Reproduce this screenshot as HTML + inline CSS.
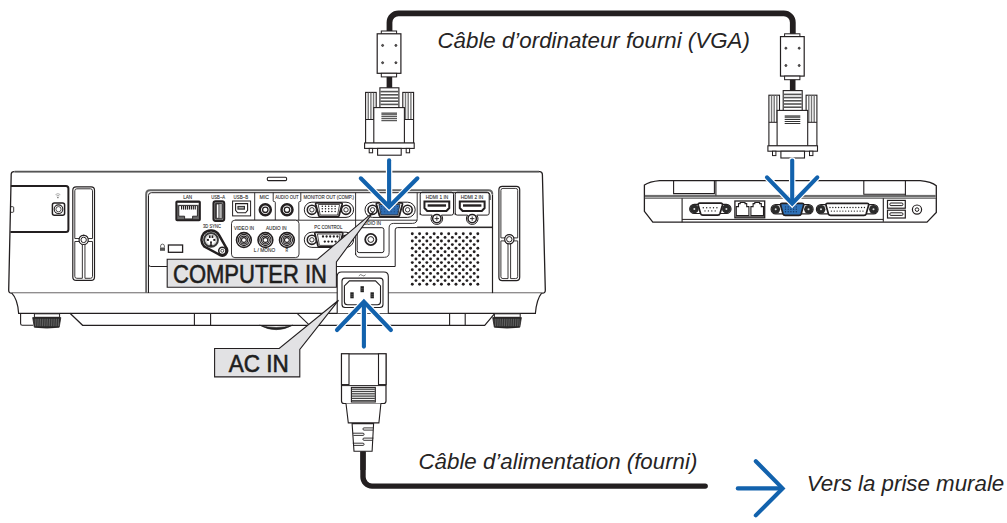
<!DOCTYPE html>
<html><head><meta charset="utf-8"><style>
html,body{margin:0;padding:0;background:#fff;width:1007px;height:523px;overflow:hidden}
svg{display:block}
text{font-family:"Liberation Sans",sans-serif}
</style></head><body>
<svg width="1007" height="523" viewBox="0 0 1007 523">
<rect width="1007" height="523" fill="#fff"/>
<path d="M389.5,32 V22.4 A9,9 0 0 1 398.5,13.4 H783.8 A9,9 0 0 1 792.8,22.4 V35" fill="none" stroke="#231f20" stroke-width="5.8" /><g transform="translate(0,0)"><rect x="381.30" y="31.00" width="15.30" height="3.20" rx="0" fill="#fff" stroke="#231f20" stroke-width="1.0" /><rect x="377.20" y="33.80" width="23.70" height="39.50" rx="0" fill="#fff" stroke="#231f20" stroke-width="1.2" /><circle cx="382.60" cy="45.40" r="1.00" fill="#666" stroke="#231f20" stroke-width="0.8"/><circle cx="395.90" cy="45.40" r="1.00" fill="#666" stroke="#231f20" stroke-width="0.8"/><circle cx="382.60" cy="62.70" r="1.00" fill="#666" stroke="#231f20" stroke-width="0.8"/><circle cx="395.90" cy="62.70" r="1.00" fill="#666" stroke="#231f20" stroke-width="0.8"/><rect x="381.30" y="73.30" width="15.30" height="3.60" rx="0" fill="#fff" stroke="#231f20" stroke-width="1.0" /><rect x="386.60" y="76.90" width="5.60" height="11.30" rx="0" fill="#231f20" stroke="none" stroke-width="0" /><rect x="365.60" y="92.40" width="10.60" height="50.80" rx="0" fill="#fff" stroke="#231f20" stroke-width="1.1" /><line x1="368.25" y1="92.80" x2="368.25" y2="119.50" stroke="#777" stroke-width="1.4" stroke-linecap="butt"/><line x1="370.90" y1="92.80" x2="370.90" y2="119.50" stroke="#777" stroke-width="1.4" stroke-linecap="butt"/><line x1="373.55" y1="92.80" x2="373.55" y2="119.50" stroke="#777" stroke-width="1.4" stroke-linecap="butt"/><line x1="365.60" y1="119.50" x2="376.20" y2="119.50" stroke="#231f20" stroke-width="1.0" stroke-linecap="butt"/><rect x="402.80" y="92.40" width="10.80" height="50.80" rx="0" fill="#fff" stroke="#231f20" stroke-width="1.1" /><line x1="405.50" y1="92.80" x2="405.50" y2="119.50" stroke="#777" stroke-width="1.4" stroke-linecap="butt"/><line x1="408.20" y1="92.80" x2="408.20" y2="119.50" stroke="#777" stroke-width="1.4" stroke-linecap="butt"/><line x1="410.90" y1="92.80" x2="410.90" y2="119.50" stroke="#777" stroke-width="1.4" stroke-linecap="butt"/><line x1="402.80" y1="119.50" x2="413.60" y2="119.50" stroke="#231f20" stroke-width="1.0" stroke-linecap="butt"/><rect x="379.90" y="87.80" width="19.00" height="20.00" rx="0" fill="#fff" stroke="#231f20" stroke-width="1.1" /><line x1="380.40" y1="91.60" x2="398.40" y2="91.60" stroke="#555" stroke-width="1.6" stroke-linecap="butt"/><line x1="380.40" y1="94.80" x2="398.40" y2="94.80" stroke="#555" stroke-width="1.6" stroke-linecap="butt"/><line x1="380.40" y1="98.00" x2="398.40" y2="98.00" stroke="#555" stroke-width="1.6" stroke-linecap="butt"/><line x1="380.40" y1="101.20" x2="398.40" y2="101.20" stroke="#555" stroke-width="1.6" stroke-linecap="butt"/><line x1="380.40" y1="104.40" x2="398.40" y2="104.40" stroke="#555" stroke-width="1.6" stroke-linecap="butt"/><rect x="373.80" y="107.60" width="30.60" height="35.60" rx="0" fill="#fff" stroke="#231f20" stroke-width="1.1" /><rect x="381.40" y="112.40" width="15.60" height="3.00" rx="0" fill="#6a6a6a" stroke="none" stroke-width="0" /><line x1="381.40" y1="116.70" x2="397.00" y2="116.70" stroke="#333" stroke-width="1.0" stroke-linecap="butt"/><line x1="381.40" y1="118.70" x2="397.00" y2="118.70" stroke="#333" stroke-width="1.0" stroke-linecap="butt"/><line x1="381.40" y1="120.70" x2="397.00" y2="120.70" stroke="#333" stroke-width="1.0" stroke-linecap="butt"/><rect x="364.60" y="143.00" width="49.60" height="5.40" rx="0" fill="#fff" stroke="#231f20" stroke-width="1.1" /><rect x="369.20" y="148.40" width="3.40" height="4.40" rx="0" fill="#fff" stroke="#231f20" stroke-width="1.0" /><rect x="406.20" y="148.40" width="3.40" height="4.40" rx="0" fill="#fff" stroke="#231f20" stroke-width="1.0" /><rect x="377.60" y="148.40" width="23.60" height="6.80" rx="0" fill="#fff" stroke="#231f20" stroke-width="1.1" /></g><g transform="translate(403.3,2.8)"><rect x="381.30" y="31.00" width="15.30" height="3.20" rx="0" fill="#fff" stroke="#231f20" stroke-width="1.0" /><rect x="377.20" y="33.80" width="23.70" height="39.50" rx="0" fill="#fff" stroke="#231f20" stroke-width="1.2" /><circle cx="382.60" cy="45.40" r="1.00" fill="#666" stroke="#231f20" stroke-width="0.8"/><circle cx="395.90" cy="45.40" r="1.00" fill="#666" stroke="#231f20" stroke-width="0.8"/><circle cx="382.60" cy="62.70" r="1.00" fill="#666" stroke="#231f20" stroke-width="0.8"/><circle cx="395.90" cy="62.70" r="1.00" fill="#666" stroke="#231f20" stroke-width="0.8"/><rect x="381.30" y="73.30" width="15.30" height="3.60" rx="0" fill="#fff" stroke="#231f20" stroke-width="1.0" /><rect x="386.60" y="76.90" width="5.60" height="11.30" rx="0" fill="#231f20" stroke="none" stroke-width="0" /><rect x="365.60" y="92.40" width="10.60" height="50.80" rx="0" fill="#fff" stroke="#231f20" stroke-width="1.1" /><line x1="368.25" y1="92.80" x2="368.25" y2="119.50" stroke="#777" stroke-width="1.4" stroke-linecap="butt"/><line x1="370.90" y1="92.80" x2="370.90" y2="119.50" stroke="#777" stroke-width="1.4" stroke-linecap="butt"/><line x1="373.55" y1="92.80" x2="373.55" y2="119.50" stroke="#777" stroke-width="1.4" stroke-linecap="butt"/><line x1="365.60" y1="119.50" x2="376.20" y2="119.50" stroke="#231f20" stroke-width="1.0" stroke-linecap="butt"/><rect x="402.80" y="92.40" width="10.80" height="50.80" rx="0" fill="#fff" stroke="#231f20" stroke-width="1.1" /><line x1="405.50" y1="92.80" x2="405.50" y2="119.50" stroke="#777" stroke-width="1.4" stroke-linecap="butt"/><line x1="408.20" y1="92.80" x2="408.20" y2="119.50" stroke="#777" stroke-width="1.4" stroke-linecap="butt"/><line x1="410.90" y1="92.80" x2="410.90" y2="119.50" stroke="#777" stroke-width="1.4" stroke-linecap="butt"/><line x1="402.80" y1="119.50" x2="413.60" y2="119.50" stroke="#231f20" stroke-width="1.0" stroke-linecap="butt"/><rect x="379.90" y="87.80" width="19.00" height="20.00" rx="0" fill="#fff" stroke="#231f20" stroke-width="1.1" /><line x1="380.40" y1="91.60" x2="398.40" y2="91.60" stroke="#555" stroke-width="1.6" stroke-linecap="butt"/><line x1="380.40" y1="94.80" x2="398.40" y2="94.80" stroke="#555" stroke-width="1.6" stroke-linecap="butt"/><line x1="380.40" y1="98.00" x2="398.40" y2="98.00" stroke="#555" stroke-width="1.6" stroke-linecap="butt"/><line x1="380.40" y1="101.20" x2="398.40" y2="101.20" stroke="#555" stroke-width="1.6" stroke-linecap="butt"/><line x1="380.40" y1="104.40" x2="398.40" y2="104.40" stroke="#555" stroke-width="1.6" stroke-linecap="butt"/><rect x="373.80" y="107.60" width="30.60" height="35.60" rx="0" fill="#fff" stroke="#231f20" stroke-width="1.1" /><rect x="381.40" y="112.40" width="15.60" height="3.00" rx="0" fill="#6a6a6a" stroke="none" stroke-width="0" /><line x1="381.40" y1="116.70" x2="397.00" y2="116.70" stroke="#333" stroke-width="1.0" stroke-linecap="butt"/><line x1="381.40" y1="118.70" x2="397.00" y2="118.70" stroke="#333" stroke-width="1.0" stroke-linecap="butt"/><line x1="381.40" y1="120.70" x2="397.00" y2="120.70" stroke="#333" stroke-width="1.0" stroke-linecap="butt"/><rect x="364.60" y="143.00" width="49.60" height="5.40" rx="0" fill="#fff" stroke="#231f20" stroke-width="1.1" /><rect x="369.20" y="148.40" width="3.40" height="4.40" rx="0" fill="#fff" stroke="#231f20" stroke-width="1.0" /><rect x="406.20" y="148.40" width="3.40" height="4.40" rx="0" fill="#fff" stroke="#231f20" stroke-width="1.0" /><rect x="377.60" y="148.40" width="23.60" height="6.80" rx="0" fill="#fff" stroke="#231f20" stroke-width="1.1" /></g><path d="M11.2,174 Q11.4,171.6 14,171.6 H539.5 Q542.3,171.6 542.4,174.5 L545.3,290 Q545.4,293.1 542.5,293.1 H11.6 Q8.6,293.1 8.7,290 Z" fill="#fff" stroke="#231f20" stroke-width="1.3" /><line x1="14.50" y1="171.60" x2="539.00" y2="171.60" stroke="#fff" stroke-width="2.0" stroke-linecap="butt"/><line x1="14.50" y1="171.70" x2="539.00" y2="171.70" stroke="#555" stroke-width="1.8" stroke-linecap="butt"/><path d="M11.8,293.2 C15.5,297 18,304 18.6,313.3 L535.4,313.3 C536.2,304 538.5,297 541.6,293.2" fill="#fff" stroke="#231f20" stroke-width="1.2" /><path d="M70,313.3 L82.6,325.3 H484.7 L494.4,313.8" fill="none" stroke="#231f20" stroke-width="1.2" /><path d="M20.6,313.3 V323.5 Q20.6,325.3 22.4,325.3 H33.3" fill="none" stroke="#231f20" stroke-width="1.1" /><path d="M194.4,313.3 V325.3 M210.6,313.3 V325.3" fill="none" stroke="#231f20" stroke-width="1.1" /><path d="M449.6,313.3 V325.3 M465.2,313.3 V325.3" fill="none" stroke="#231f20" stroke-width="1.1" /><path d="M259.6,325.2 Q276.2,334.2 292.8,325.2 Q276.2,329.6 259.6,325.2 Z" fill="#222" stroke="#222" stroke-width="0.6"/><path d="M297.1,313.4 L308.6,324.4" fill="none" stroke="#231f20" stroke-width="1.1" /><rect x="34.40" y="313.80" width="25.20" height="3.50" rx="0" fill="#fff" stroke="#231f20" stroke-width="1.0" /><path d="M32.7,317.6 H60.8 L59.199999999999996,327.2 Q46.75,329 34.300000000000004,327.2 Z" fill="#2a2a2a" stroke="#231f20" stroke-width="0.8"/><line x1="35.20" y1="318.80" x2="35.50" y2="326.20" stroke="#9a9a9a" stroke-width="0.5" stroke-linecap="butt"/><line x1="36.98" y1="318.80" x2="37.28" y2="326.20" stroke="#9a9a9a" stroke-width="0.5" stroke-linecap="butt"/><line x1="38.75" y1="318.80" x2="39.05" y2="326.20" stroke="#9a9a9a" stroke-width="0.5" stroke-linecap="butt"/><line x1="40.53" y1="318.80" x2="40.83" y2="326.20" stroke="#9a9a9a" stroke-width="0.5" stroke-linecap="butt"/><line x1="42.31" y1="318.80" x2="42.61" y2="326.20" stroke="#9a9a9a" stroke-width="0.5" stroke-linecap="butt"/><line x1="44.08" y1="318.80" x2="44.38" y2="326.20" stroke="#9a9a9a" stroke-width="0.5" stroke-linecap="butt"/><line x1="45.86" y1="318.80" x2="46.16" y2="326.20" stroke="#9a9a9a" stroke-width="0.5" stroke-linecap="butt"/><line x1="47.64" y1="318.80" x2="47.94" y2="326.20" stroke="#9a9a9a" stroke-width="0.5" stroke-linecap="butt"/><line x1="49.42" y1="318.80" x2="49.72" y2="326.20" stroke="#9a9a9a" stroke-width="0.5" stroke-linecap="butt"/><line x1="51.19" y1="318.80" x2="51.49" y2="326.20" stroke="#9a9a9a" stroke-width="0.5" stroke-linecap="butt"/><line x1="52.97" y1="318.80" x2="53.27" y2="326.20" stroke="#9a9a9a" stroke-width="0.5" stroke-linecap="butt"/><line x1="54.75" y1="318.80" x2="55.05" y2="326.20" stroke="#9a9a9a" stroke-width="0.5" stroke-linecap="butt"/><line x1="56.52" y1="318.80" x2="56.82" y2="326.20" stroke="#9a9a9a" stroke-width="0.5" stroke-linecap="butt"/><line x1="58.30" y1="318.80" x2="58.60" y2="326.20" stroke="#9a9a9a" stroke-width="0.5" stroke-linecap="butt"/><rect x="494.40" y="313.80" width="25.80" height="3.50" rx="0" fill="#fff" stroke="#231f20" stroke-width="1.0" /><path d="M492.7,317.6 H521.4 L519.8,327.2 Q507.04999999999995,329 494.3,327.2 Z" fill="#2a2a2a" stroke="#231f20" stroke-width="0.8"/><line x1="495.20" y1="318.80" x2="495.50" y2="326.20" stroke="#9a9a9a" stroke-width="0.5" stroke-linecap="butt"/><line x1="497.02" y1="318.80" x2="497.32" y2="326.20" stroke="#9a9a9a" stroke-width="0.5" stroke-linecap="butt"/><line x1="498.85" y1="318.80" x2="499.15" y2="326.20" stroke="#9a9a9a" stroke-width="0.5" stroke-linecap="butt"/><line x1="500.67" y1="318.80" x2="500.97" y2="326.20" stroke="#9a9a9a" stroke-width="0.5" stroke-linecap="butt"/><line x1="502.49" y1="318.80" x2="502.79" y2="326.20" stroke="#9a9a9a" stroke-width="0.5" stroke-linecap="butt"/><line x1="504.32" y1="318.80" x2="504.62" y2="326.20" stroke="#9a9a9a" stroke-width="0.5" stroke-linecap="butt"/><line x1="506.14" y1="318.80" x2="506.44" y2="326.20" stroke="#9a9a9a" stroke-width="0.5" stroke-linecap="butt"/><line x1="507.96" y1="318.80" x2="508.26" y2="326.20" stroke="#9a9a9a" stroke-width="0.5" stroke-linecap="butt"/><line x1="509.78" y1="318.80" x2="510.08" y2="326.20" stroke="#9a9a9a" stroke-width="0.5" stroke-linecap="butt"/><line x1="511.61" y1="318.80" x2="511.91" y2="326.20" stroke="#9a9a9a" stroke-width="0.5" stroke-linecap="butt"/><line x1="513.43" y1="318.80" x2="513.73" y2="326.20" stroke="#9a9a9a" stroke-width="0.5" stroke-linecap="butt"/><line x1="515.25" y1="318.80" x2="515.55" y2="326.20" stroke="#9a9a9a" stroke-width="0.5" stroke-linecap="butt"/><line x1="517.08" y1="318.80" x2="517.38" y2="326.20" stroke="#9a9a9a" stroke-width="0.5" stroke-linecap="butt"/><line x1="518.90" y1="318.80" x2="519.20" y2="326.20" stroke="#9a9a9a" stroke-width="0.5" stroke-linecap="butt"/><rect x="267.30" y="177.30" width="19.30" height="3.30" rx="1.2" fill="#fff" stroke="#231f20" stroke-width="1.1" /><path d="M10.9,186 H66 Q68.4,186 68.4,188.5 V229.5 Q68.4,232 66,232 H10.4" fill="none" stroke="#231f20" stroke-width="2.0" /><path d="M10.8,206.7 H12.8 Q13.7,206.7 13.7,207.7 V211.3 Q13.7,212.3 12.8,212.3 H10.6" fill="none" stroke="#231f20" stroke-width="0.9" /><rect x="52.40" y="203.10" width="12.20" height="12.20" rx="2" fill="#fff" stroke="#231f20" stroke-width="1.5" /><circle cx="58.50" cy="209.20" r="4.30" fill="#fff" stroke="#231f20" stroke-width="1.1"/><circle cx="58.50" cy="209.20" r="2.60" fill="#fff" stroke="#231f20" stroke-width="0.8"/><path d="M55.5,194.6 Q57.9,192.6 60.3,194.6 M56.4,195.9 Q57.9,194.7 59.4,195.9" fill="none" stroke="#777" stroke-width="0.6" /><rect x="57.30" y="196.80" width="1.20" height="1.40" rx="0" fill="#555" stroke="none" stroke-width="0" /><rect x="72.80" y="186.80" width="21.70" height="93.50" rx="3.4" fill="#fff" stroke="#231f20" stroke-width="1.2" /><path d="M74.8,238.5 V190.8 Q74.8,188.8 76.8,188.8 H90.5 Q92.5,188.8 92.5,190.8 V238.5 H88.25 A4.8,4.8 0 0 0 79.05000000000001,238.5 Z" fill="none" stroke="#231f20" stroke-width="0.9" /><path d="M74.8,241.5 H79.15 A4.8,4.8 0 0 0 82.35000000000001,244.5 V278.3 H76.8 Q74.8,278.3 74.8,276.3 Z" fill="none" stroke="#231f20" stroke-width="0.9" /><path d="M92.5,241.5 H88.15 A4.8,4.8 0 0 1 84.95,244.5 V278.3 H90.5 Q92.5,278.3 92.5,276.3 Z" fill="none" stroke="#231f20" stroke-width="0.9" /><circle cx="83.65" cy="239.90" r="4.60" fill="#fff" stroke="#231f20" stroke-width="1.2"/><circle cx="83.65" cy="239.90" r="2.70" fill="#fff" stroke="#231f20" stroke-width="1.0"/><rect x="498.90" y="186.40" width="20.80" height="94.20" rx="3.4" fill="#fff" stroke="#231f20" stroke-width="1.2" /><path d="M500.9,237.9 V190.4 Q500.9,188.4 502.9,188.4 H515.7 Q517.7,188.4 517.7,190.4 V237.9 H513.9 A4.8,4.8 0 0 0 504.7,237.9 Z" fill="none" stroke="#231f20" stroke-width="0.9" /><path d="M500.9,240.9 H504.8 A4.8,4.8 0 0 0 508.0,243.9 V278.6 H502.9 Q500.9,278.6 500.9,276.6 Z" fill="none" stroke="#231f20" stroke-width="0.9" /><path d="M517.7,240.9 H513.8 A4.8,4.8 0 0 1 510.6,243.9 V278.6 H515.7 Q517.7,278.6 517.7,276.6 Z" fill="none" stroke="#231f20" stroke-width="0.9" /><circle cx="509.30" cy="239.30" r="4.60" fill="#fff" stroke="#231f20" stroke-width="1.2"/><circle cx="509.30" cy="239.30" r="2.70" fill="#fff" stroke="#231f20" stroke-width="1.0"/><path d="M146.2,293.1 V194.2 Q146.2,190.3 150.1,190.3 H488.4 Q492.3,190.3 492.3,194.2" fill="none" stroke="#666" stroke-width="2.0" /><line x1="492.50" y1="194.50" x2="492.50" y2="293.10" stroke="#231f20" stroke-width="1.2" stroke-linecap="butt"/><path d="M148.5,293 V195.5 Q148.5,192.7 151.3,192.7 H487.3 Q490.1,192.7 490.1,195.5 V200" fill="none" stroke="#231f20" stroke-width="1.0" /><path d="M148.5,264.3 Q148.5,266.5 150.8,266.5 H395.2 V229.9 Q395.2,227.6 397.5,227.6 H492.5" fill="none" stroke="#231f20" stroke-width="1.0" /><line x1="235.00" y1="220.20" x2="417.20" y2="220.20" stroke="#231f20" stroke-width="0.9" stroke-linecap="butt"/><line x1="254.70" y1="192.70" x2="254.70" y2="220.20" stroke="#231f20" stroke-width="0.9" stroke-linecap="butt"/><path d="M273.2,192.7 V200.8 Q273.2,201.6 274,201.6 H274.6 Q275.3,201.6 275.3,202.4 V220.2" fill="none" stroke="#231f20" stroke-width="0.9" /><path d="M300.8,192.7 V200.8 Q300.8,201.6 300,201.6 H299.5 Q298.8,201.6 298.8,202.4 V220.2" fill="none" stroke="#231f20" stroke-width="0.9" /><line x1="355.60" y1="192.70" x2="355.60" y2="255.00" stroke="#231f20" stroke-width="0.9" stroke-linecap="butt"/><path d="M417.2,192.7 V218.6 Q417.2,223.4 412.4,223.4 H393.6 Q389.1,223.4 389.1,227.9 V252.6 Q389.1,257.3 384.4,257.3 H360 Q355.6,257.3 355.6,252.9" fill="none" stroke="#231f20" stroke-width="0.9" /><line x1="417.20" y1="227.00" x2="492.50" y2="227.00" stroke="#231f20" stroke-width="0.9" stroke-linecap="butt"/><rect x="231.50" y="220.20" width="67.50" height="37.40" rx="3.4" fill="#fff" stroke="#231f20" stroke-width="0.9" /><g font-family="Liberation Sans" font-size="5.6" fill="#2e2e2e" stroke="#2e2e2e" stroke-width="0.12"><text x="183.2" y="198.8" textLength="9" lengthAdjust="spacingAndGlyphs">LAN</text><text x="211.2" y="198.8" textLength="14" lengthAdjust="spacingAndGlyphs">USB−A</text><text x="233.6" y="198.8" textLength="14.5" lengthAdjust="spacingAndGlyphs">USB−B</text><text x="259.6" y="198.8" textLength="9.5" lengthAdjust="spacingAndGlyphs">MIC</text><text x="275.2" y="198.8" textLength="23.5" lengthAdjust="spacingAndGlyphs">AUDIO OUT</text><text x="303.4" y="198.8" textLength="50.5" lengthAdjust="spacingAndGlyphs">MONITOR OUT (COMP.)</text><text x="203" y="228.1" textLength="18" lengthAdjust="spacingAndGlyphs">3D SYNC</text><text x="234" y="229.6" textLength="20" lengthAdjust="spacingAndGlyphs">VIDEO IN</text><text x="266" y="229.6" textLength="20.5" lengthAdjust="spacingAndGlyphs">AUDIO IN</text><text x="253.8" y="252.2" textLength="21.4" lengthAdjust="spacingAndGlyphs">L / MONO</text><text x="285.6" y="252.2" textLength="2.6" lengthAdjust="spacingAndGlyphs">R</text><text x="314.3" y="229.4" textLength="28" lengthAdjust="spacingAndGlyphs">PC CONTROL</text><text x="361.0" y="225.0" textLength="20" lengthAdjust="spacingAndGlyphs">AUDIO IN</text><text x="425.8" y="198.5" textLength="22.4" lengthAdjust="spacingAndGlyphs">HDMI 1 IN</text><text x="460.8" y="198.5" textLength="22.4" lengthAdjust="spacingAndGlyphs">HDMI 2 IN</text></g><rect x="176.30" y="201.50" width="23.60" height="18.70" rx="0.8" fill="#6a6a6a" stroke="#231f20" stroke-width="1.9" /><rect x="177.60" y="203.00" width="21.00" height="1.80" rx="0" fill="#fff" stroke="none" stroke-width="0" /><path d="M178.8,205.6 H197.4 V216.2 H192.6 V218.9 H184.6 V216.2 H178.8 Z" fill="#fff" stroke="#231f20" stroke-width="0.9" /><line x1="181.60" y1="206.00" x2="181.60" y2="209.60" stroke="#231f20" stroke-width="1.2" stroke-linecap="butt"/><line x1="183.55" y1="206.00" x2="183.55" y2="209.60" stroke="#231f20" stroke-width="1.2" stroke-linecap="butt"/><line x1="185.50" y1="206.00" x2="185.50" y2="209.60" stroke="#231f20" stroke-width="1.2" stroke-linecap="butt"/><line x1="187.45" y1="206.00" x2="187.45" y2="209.60" stroke="#231f20" stroke-width="1.2" stroke-linecap="butt"/><line x1="189.40" y1="206.00" x2="189.40" y2="209.60" stroke="#231f20" stroke-width="1.2" stroke-linecap="butt"/><line x1="191.35" y1="206.00" x2="191.35" y2="209.60" stroke="#231f20" stroke-width="1.2" stroke-linecap="butt"/><line x1="193.30" y1="206.00" x2="193.30" y2="209.60" stroke="#231f20" stroke-width="1.2" stroke-linecap="butt"/><line x1="195.25" y1="206.00" x2="195.25" y2="209.60" stroke="#231f20" stroke-width="1.2" stroke-linecap="butt"/><rect x="213.40" y="201.20" width="10.90" height="19.80" rx="2.2" fill="#8a8a8a" stroke="#231f20" stroke-width="1.9" /><rect x="215.40" y="203.40" width="6.90" height="15.40" rx="0.6" fill="#b5b5b5" stroke="#231f20" stroke-width="0.9" /><rect x="216.40" y="204.00" width="2.50" height="14.20" rx="0" fill="#fff" stroke="#231f20" stroke-width="0.7" /><rect x="232.60" y="201.00" width="18.00" height="14.90" rx="0" fill="#fff" stroke="#231f20" stroke-width="1.0" /><path d="M235.6,203.6 H247.6 V210.3 L245.6,212.8 H237.6 L235.6,210.3 Z" fill="none" stroke="#231f20" stroke-width="1.1" /><rect x="237.40" y="205.90" width="7.60" height="3.80" rx="0" fill="#333" stroke="none" stroke-width="0" /><rect x="238.60" y="206.90" width="5.20" height="1.60" rx="0" fill="#aaa" stroke="none" stroke-width="0" /><circle cx="265.30" cy="209.80" r="5.50" fill="#fff" stroke="#231f20" stroke-width="2.5"/><circle cx="265.30" cy="209.80" r="2.70" fill="#fff" stroke="#231f20" stroke-width="1.3"/><circle cx="287.00" cy="209.80" r="5.50" fill="#fff" stroke="#231f20" stroke-width="2.5"/><circle cx="287.00" cy="209.80" r="2.70" fill="#fff" stroke="#231f20" stroke-width="1.3"/><path d="M203.6,233.7 A9.6,9.6 0 0 1 219.2,235.4 L226.3,247.8 A5,5 0 0 1 219,254.5 L204.3,246.6 A9.6,9.6 0 0 1 203.6,233.7 Z" fill="none" stroke="#231f20" stroke-width="2.5" /><circle cx="211.00" cy="239.90" r="6.90" fill="#fff" stroke="#3a3a3a" stroke-width="2.0"/><circle cx="211.00" cy="239.90" r="5.00" fill="#fff" stroke="#999" stroke-width="0.5"/><rect x="208.90" y="235.40" width="1.70" height="2.60" rx="0" fill="#231f20" stroke="none" stroke-width="0" /><rect x="211.60" y="235.40" width="1.70" height="2.60" rx="0" fill="#231f20" stroke="none" stroke-width="0" /><rect x="206.90" y="238.90" width="2.00" height="2.00" rx="0" fill="#231f20" stroke="none" stroke-width="0" /><rect x="213.30" y="238.90" width="2.00" height="2.00" rx="0" fill="#231f20" stroke="none" stroke-width="0" /><rect x="210.10" y="241.40" width="1.80" height="2.40" rx="0" fill="#231f20" stroke="none" stroke-width="0" /><path d="M208.9,246.2 L211,243.6 L213.1,246.2 Z" fill="#231f20" stroke="none" stroke-width="0" /><circle cx="222.30" cy="250.80" r="3.60" fill="#fff" stroke="#231f20" stroke-width="1.5"/><circle cx="222.30" cy="250.80" r="1.50" fill="#fff" stroke="#231f20" stroke-width="0.8"/><rect x="168.40" y="245.00" width="14.20" height="7.30" rx="0" fill="#fff" stroke="#231f20" stroke-width="1.3" /><path d="M160.6,247.5 V246 A1.9,1.9 0 0 1 164.4,246 V247.5" fill="none" stroke="#444" stroke-width="0.8" /><rect x="160.00" y="247.50" width="5.00" height="3.30" rx="0" fill="#555" stroke="none" stroke-width="0" /><circle cx="243.90" cy="240.00" r="7.40" fill="#fff" stroke="#231f20" stroke-width="1.6"/><circle cx="243.90" cy="240.00" r="5.60" fill="none" stroke="#231f20" stroke-width="1.1"/><circle cx="243.90" cy="240.00" r="3.90" fill="none" stroke="#231f20" stroke-width="1.1"/><circle cx="243.90" cy="240.00" r="2.40" fill="none" stroke="#231f20" stroke-width="1.1"/><circle cx="265.40" cy="240.00" r="7.40" fill="#fff" stroke="#231f20" stroke-width="1.6"/><circle cx="265.40" cy="240.00" r="5.60" fill="none" stroke="#231f20" stroke-width="1.1"/><circle cx="265.40" cy="240.00" r="3.90" fill="none" stroke="#231f20" stroke-width="1.1"/><circle cx="265.40" cy="240.00" r="2.40" fill="none" stroke="#231f20" stroke-width="1.1"/><circle cx="286.90" cy="240.00" r="7.40" fill="#fff" stroke="#231f20" stroke-width="1.6"/><circle cx="286.90" cy="240.00" r="5.60" fill="none" stroke="#231f20" stroke-width="1.1"/><circle cx="286.90" cy="240.00" r="3.90" fill="none" stroke="#231f20" stroke-width="1.1"/><circle cx="286.90" cy="240.00" r="2.40" fill="none" stroke="#231f20" stroke-width="1.1"/><path d="M311.90000000000003,202.2 H346.0 A7.6000000000000085,7.6000000000000085 0 0 1 346.0,217.4 H311.90000000000003 A7.6000000000000085,7.6000000000000085 0 0 1 311.90000000000003,202.2 Z" fill="#fff" stroke="#231f20" stroke-width="1.0"/><circle cx="311.90" cy="209.80" r="4.60" fill="#fff" stroke="#231f20" stroke-width="1.6"/><circle cx="311.90" cy="209.80" r="2.20" fill="#fff" stroke="#231f20" stroke-width="0.9"/><circle cx="346.00" cy="209.80" r="4.60" fill="#fff" stroke="#231f20" stroke-width="1.6"/><circle cx="346.00" cy="209.80" r="2.20" fill="#fff" stroke="#231f20" stroke-width="0.9"/><path d="M317,202.9 H340.8 Q342.40000000000003,202.9 342.1,204.5 L339.0,215.6 Q338.6,216.6 337.5,216.6 H320.3 Q319.2,216.6 318.8,215.6 L315.7,204.5 Q315.4,202.9 317,202.9 Z" fill="#fff" stroke="#231f20" stroke-width="1.8" transform="translate(0,0)"/><path d="M318.2,204.5 H339.6 L337.6,215.0 H320.2 Z" fill="#fff" stroke="#231f20" stroke-width="0.8"/><circle cx="322.30" cy="206.20" r="0.75" fill="#231f20" stroke="none" stroke-width="0"/><circle cx="325.50" cy="206.20" r="0.75" fill="#231f20" stroke="none" stroke-width="0"/><circle cx="328.70" cy="206.20" r="0.75" fill="#231f20" stroke="none" stroke-width="0"/><circle cx="331.90" cy="206.20" r="0.75" fill="#231f20" stroke="none" stroke-width="0"/><circle cx="335.10" cy="206.20" r="0.75" fill="#231f20" stroke="none" stroke-width="0"/><circle cx="322.30" cy="208.80" r="0.75" fill="#231f20" stroke="none" stroke-width="0"/><circle cx="325.50" cy="208.80" r="0.75" fill="#231f20" stroke="none" stroke-width="0"/><circle cx="328.70" cy="208.80" r="0.75" fill="#231f20" stroke="none" stroke-width="0"/><circle cx="331.90" cy="208.80" r="0.75" fill="#231f20" stroke="none" stroke-width="0"/><circle cx="335.10" cy="208.80" r="0.75" fill="#231f20" stroke="none" stroke-width="0"/><circle cx="322.30" cy="211.40" r="0.75" fill="#231f20" stroke="none" stroke-width="0"/><circle cx="325.50" cy="211.40" r="0.75" fill="#231f20" stroke="none" stroke-width="0"/><circle cx="328.70" cy="211.40" r="0.75" fill="#231f20" stroke="none" stroke-width="0"/><circle cx="331.90" cy="211.40" r="0.75" fill="#231f20" stroke="none" stroke-width="0"/><circle cx="335.10" cy="211.40" r="0.75" fill="#231f20" stroke="none" stroke-width="0"/><path d="M311.90000000000003,232.2 H346.0 A7.6000000000000085,7.6000000000000085 0 0 1 346.0,247.4 H311.90000000000003 A7.6000000000000085,7.6000000000000085 0 0 1 311.90000000000003,232.2 Z" fill="#fff" stroke="#231f20" stroke-width="1.0"/><circle cx="311.90" cy="239.80" r="4.60" fill="#fff" stroke="#231f20" stroke-width="1.6"/><circle cx="311.90" cy="239.80" r="2.20" fill="#fff" stroke="#231f20" stroke-width="0.9"/><circle cx="346.00" cy="239.80" r="4.60" fill="#fff" stroke="#231f20" stroke-width="1.6"/><circle cx="346.00" cy="239.80" r="2.20" fill="#fff" stroke="#231f20" stroke-width="0.9"/><path d="M316.2,232.4 H341.4 Q343.0,232.4 342.7,234.0 L339.59999999999997,246.0 Q339.2,247.0 338.09999999999997,247.0 H319.5 Q318.4,247.0 318.0,246.0 L314.9,234.0 Q314.59999999999997,232.4 316.2,232.4 Z" fill="#fff" stroke="#231f20" stroke-width="1.8" transform="translate(0,0)"/><path d="M317.4,234.0 H340.2 L338.2,245.4 H319.4 Z" fill="#fff" stroke="#231f20" stroke-width="0.8"/><circle cx="323.00" cy="236.50" r="1.15" fill="#231f20" stroke="none" stroke-width="0"/><circle cx="326.60" cy="236.50" r="1.15" fill="#231f20" stroke="none" stroke-width="0"/><circle cx="330.20" cy="236.50" r="1.15" fill="#231f20" stroke="none" stroke-width="0"/><circle cx="333.80" cy="236.50" r="1.15" fill="#231f20" stroke="none" stroke-width="0"/><circle cx="337.40" cy="236.50" r="1.15" fill="#231f20" stroke="none" stroke-width="0"/><circle cx="324.80" cy="241.60" r="1.15" fill="#231f20" stroke="none" stroke-width="0"/><circle cx="328.40" cy="241.60" r="1.15" fill="#231f20" stroke="none" stroke-width="0"/><circle cx="332.00" cy="241.60" r="1.15" fill="#231f20" stroke="none" stroke-width="0"/><circle cx="335.60" cy="241.60" r="1.15" fill="#231f20" stroke="none" stroke-width="0"/><path d="M372.6,202.2 H407.59999999999997 A7.6000000000000085,7.6000000000000085 0 0 1 407.59999999999997,217.4 H372.6 A7.6000000000000085,7.6000000000000085 0 0 1 372.6,202.2 Z" fill="#fff" stroke="#231f20" stroke-width="1.0"/><circle cx="372.60" cy="209.80" r="4.60" fill="#fff" stroke="#231f20" stroke-width="1.6"/><circle cx="372.60" cy="209.80" r="2.20" fill="#fff" stroke="#231f20" stroke-width="0.9"/><circle cx="407.60" cy="209.80" r="4.60" fill="#fff" stroke="#231f20" stroke-width="1.6"/><circle cx="407.60" cy="209.80" r="2.20" fill="#fff" stroke="#231f20" stroke-width="0.9"/><path d="M377.7,202.9 H401.1 Q402.70000000000005,202.9 402.40000000000003,204.5 L399.3,215.6 Q398.90000000000003,216.6 397.8,216.6 H381.0 Q379.9,216.6 379.5,215.6 L376.4,204.5 Q376.09999999999997,202.9 377.7,202.9 Z" fill="#fff" stroke="#231f20" stroke-width="1.8" transform="translate(0,0)"/><path d="M378.9,204.5 H399.90000000000003 L397.90000000000003,215.0 H380.9 Z" fill="#2f6db3" stroke="#231f20" stroke-width="0.8"/><circle cx="381.50" cy="206.50" r="0.50" fill="#173f70" stroke="none" stroke-width="0"/><circle cx="384.70" cy="206.50" r="0.50" fill="#173f70" stroke="none" stroke-width="0"/><circle cx="387.90" cy="206.50" r="0.50" fill="#173f70" stroke="none" stroke-width="0"/><circle cx="391.10" cy="206.50" r="0.50" fill="#173f70" stroke="none" stroke-width="0"/><circle cx="394.30" cy="206.50" r="0.50" fill="#173f70" stroke="none" stroke-width="0"/><circle cx="397.50" cy="206.50" r="0.50" fill="#173f70" stroke="none" stroke-width="0"/><circle cx="381.50" cy="209.10" r="0.50" fill="#173f70" stroke="none" stroke-width="0"/><circle cx="384.70" cy="209.10" r="0.50" fill="#173f70" stroke="none" stroke-width="0"/><circle cx="387.90" cy="209.10" r="0.50" fill="#173f70" stroke="none" stroke-width="0"/><circle cx="391.10" cy="209.10" r="0.50" fill="#173f70" stroke="none" stroke-width="0"/><circle cx="394.30" cy="209.10" r="0.50" fill="#173f70" stroke="none" stroke-width="0"/><circle cx="397.50" cy="209.10" r="0.50" fill="#173f70" stroke="none" stroke-width="0"/><circle cx="381.50" cy="211.70" r="0.50" fill="#173f70" stroke="none" stroke-width="0"/><circle cx="384.70" cy="211.70" r="0.50" fill="#173f70" stroke="none" stroke-width="0"/><circle cx="387.90" cy="211.70" r="0.50" fill="#173f70" stroke="none" stroke-width="0"/><circle cx="391.10" cy="211.70" r="0.50" fill="#173f70" stroke="none" stroke-width="0"/><circle cx="394.30" cy="211.70" r="0.50" fill="#173f70" stroke="none" stroke-width="0"/><circle cx="397.50" cy="211.70" r="0.50" fill="#173f70" stroke="none" stroke-width="0"/><rect x="357.20" y="227.70" width="26.70" height="24.90" rx="2" fill="#fff" stroke="#231f20" stroke-width="1.0" /><circle cx="370.80" cy="239.50" r="5.60" fill="#fff" stroke="#231f20" stroke-width="1.8"/><circle cx="370.80" cy="239.50" r="2.90" fill="#fff" stroke="#231f20" stroke-width="1.0"/><path d="M420.2,215.1 V194.2 Q420.2,192.2 422.2,192.2 H451.5 Q453.5,192.2 453.5,194.2 V213.1 Q453.5,215.1 451.5,215.1 H441.45000000000005 A5.8,5.8 0 1 1 432.25,215.1 H422.2 Q420.2,215.1 420.2,213.1" fill="none" stroke="#231f20" stroke-width="1.0" /><path d="M424.45000000000005,201.4 H449.25 V208 L446.45000000000005,211 H427.25 L424.45000000000005,208 Z" fill="#fff" stroke="#231f20" stroke-width="2.0"/><rect x="427.65" y="204.30" width="18.40" height="2.40" rx="0" fill="#231f20" stroke="none" stroke-width="0" /><circle cx="436.85" cy="218.60" r="4.20" fill="#fff" stroke="#231f20" stroke-width="1.5"/><path d="M434.65000000000003,218.6 H439.05 M436.85,216.4 V220.8" fill="none" stroke="#231f20" stroke-width="0.9" /><path d="M455.2,215.1 V194.2 Q455.2,192.2 457.2,192.2 H487.2 Q489.2,192.2 489.2,194.2 V213.1 Q489.2,215.1 487.2,215.1 H476.8 A5.8,5.8 0 1 1 467.59999999999997,215.1 H457.2 Q455.2,215.1 455.2,213.1" fill="none" stroke="#231f20" stroke-width="1.0" /><path d="M459.8,201.4 H484.59999999999997 V208 L481.8,211 H462.59999999999997 L459.8,208 Z" fill="#fff" stroke="#231f20" stroke-width="2.0"/><rect x="463.00" y="204.30" width="18.40" height="2.40" rx="0" fill="#231f20" stroke="none" stroke-width="0" /><circle cx="472.20" cy="218.60" r="4.20" fill="#fff" stroke="#231f20" stroke-width="1.5"/><path d="M470.0,218.6 H474.4 M472.2,216.4 V220.8" fill="none" stroke="#231f20" stroke-width="0.9" /><circle cx="412.30" cy="233.80" r="1.45" fill="#231f20" stroke="none" stroke-width="0"/><circle cx="419.58" cy="233.80" r="1.45" fill="#231f20" stroke="none" stroke-width="0"/><circle cx="426.86" cy="233.80" r="1.45" fill="#231f20" stroke="none" stroke-width="0"/><circle cx="434.14" cy="233.80" r="1.45" fill="#231f20" stroke="none" stroke-width="0"/><circle cx="441.42" cy="233.80" r="1.45" fill="#231f20" stroke="none" stroke-width="0"/><circle cx="448.70" cy="233.80" r="1.45" fill="#231f20" stroke="none" stroke-width="0"/><circle cx="455.98" cy="233.80" r="1.45" fill="#231f20" stroke="none" stroke-width="0"/><circle cx="463.26" cy="233.80" r="1.45" fill="#231f20" stroke="none" stroke-width="0"/><circle cx="470.54" cy="233.80" r="1.45" fill="#231f20" stroke="none" stroke-width="0"/><circle cx="477.82" cy="233.80" r="1.45" fill="#231f20" stroke="none" stroke-width="0"/><circle cx="415.94" cy="237.40" r="1.45" fill="#231f20" stroke="none" stroke-width="0"/><circle cx="423.22" cy="237.40" r="1.45" fill="#231f20" stroke="none" stroke-width="0"/><circle cx="430.50" cy="237.40" r="1.45" fill="#231f20" stroke="none" stroke-width="0"/><circle cx="437.78" cy="237.40" r="1.45" fill="#231f20" stroke="none" stroke-width="0"/><circle cx="445.06" cy="237.40" r="1.45" fill="#231f20" stroke="none" stroke-width="0"/><circle cx="452.34" cy="237.40" r="1.45" fill="#231f20" stroke="none" stroke-width="0"/><circle cx="459.62" cy="237.40" r="1.45" fill="#231f20" stroke="none" stroke-width="0"/><circle cx="466.90" cy="237.40" r="1.45" fill="#231f20" stroke="none" stroke-width="0"/><circle cx="474.18" cy="237.40" r="1.45" fill="#231f20" stroke="none" stroke-width="0"/><circle cx="412.30" cy="241.00" r="1.45" fill="#231f20" stroke="none" stroke-width="0"/><circle cx="419.58" cy="241.00" r="1.45" fill="#231f20" stroke="none" stroke-width="0"/><circle cx="426.86" cy="241.00" r="1.45" fill="#231f20" stroke="none" stroke-width="0"/><circle cx="434.14" cy="241.00" r="1.45" fill="#231f20" stroke="none" stroke-width="0"/><circle cx="441.42" cy="241.00" r="1.45" fill="#231f20" stroke="none" stroke-width="0"/><circle cx="448.70" cy="241.00" r="1.45" fill="#231f20" stroke="none" stroke-width="0"/><circle cx="455.98" cy="241.00" r="1.45" fill="#231f20" stroke="none" stroke-width="0"/><circle cx="463.26" cy="241.00" r="1.45" fill="#231f20" stroke="none" stroke-width="0"/><circle cx="470.54" cy="241.00" r="1.45" fill="#231f20" stroke="none" stroke-width="0"/><circle cx="477.82" cy="241.00" r="1.45" fill="#231f20" stroke="none" stroke-width="0"/><circle cx="415.94" cy="244.60" r="1.45" fill="#231f20" stroke="none" stroke-width="0"/><circle cx="423.22" cy="244.60" r="1.45" fill="#231f20" stroke="none" stroke-width="0"/><circle cx="430.50" cy="244.60" r="1.45" fill="#231f20" stroke="none" stroke-width="0"/><circle cx="437.78" cy="244.60" r="1.45" fill="#231f20" stroke="none" stroke-width="0"/><circle cx="445.06" cy="244.60" r="1.45" fill="#231f20" stroke="none" stroke-width="0"/><circle cx="452.34" cy="244.60" r="1.45" fill="#231f20" stroke="none" stroke-width="0"/><circle cx="459.62" cy="244.60" r="1.45" fill="#231f20" stroke="none" stroke-width="0"/><circle cx="466.90" cy="244.60" r="1.45" fill="#231f20" stroke="none" stroke-width="0"/><circle cx="474.18" cy="244.60" r="1.45" fill="#231f20" stroke="none" stroke-width="0"/><circle cx="412.30" cy="248.20" r="1.45" fill="#231f20" stroke="none" stroke-width="0"/><circle cx="419.58" cy="248.20" r="1.45" fill="#231f20" stroke="none" stroke-width="0"/><circle cx="426.86" cy="248.20" r="1.45" fill="#231f20" stroke="none" stroke-width="0"/><circle cx="434.14" cy="248.20" r="1.45" fill="#231f20" stroke="none" stroke-width="0"/><circle cx="441.42" cy="248.20" r="1.45" fill="#231f20" stroke="none" stroke-width="0"/><circle cx="448.70" cy="248.20" r="1.45" fill="#231f20" stroke="none" stroke-width="0"/><circle cx="455.98" cy="248.20" r="1.45" fill="#231f20" stroke="none" stroke-width="0"/><circle cx="463.26" cy="248.20" r="1.45" fill="#231f20" stroke="none" stroke-width="0"/><circle cx="470.54" cy="248.20" r="1.45" fill="#231f20" stroke="none" stroke-width="0"/><circle cx="477.82" cy="248.20" r="1.45" fill="#231f20" stroke="none" stroke-width="0"/><circle cx="415.94" cy="251.80" r="1.45" fill="#231f20" stroke="none" stroke-width="0"/><circle cx="423.22" cy="251.80" r="1.45" fill="#231f20" stroke="none" stroke-width="0"/><circle cx="430.50" cy="251.80" r="1.45" fill="#231f20" stroke="none" stroke-width="0"/><circle cx="437.78" cy="251.80" r="1.45" fill="#231f20" stroke="none" stroke-width="0"/><circle cx="445.06" cy="251.80" r="1.45" fill="#231f20" stroke="none" stroke-width="0"/><circle cx="452.34" cy="251.80" r="1.45" fill="#231f20" stroke="none" stroke-width="0"/><circle cx="459.62" cy="251.80" r="1.45" fill="#231f20" stroke="none" stroke-width="0"/><circle cx="466.90" cy="251.80" r="1.45" fill="#231f20" stroke="none" stroke-width="0"/><circle cx="474.18" cy="251.80" r="1.45" fill="#231f20" stroke="none" stroke-width="0"/><circle cx="412.30" cy="255.40" r="1.45" fill="#231f20" stroke="none" stroke-width="0"/><circle cx="419.58" cy="255.40" r="1.45" fill="#231f20" stroke="none" stroke-width="0"/><circle cx="426.86" cy="255.40" r="1.45" fill="#231f20" stroke="none" stroke-width="0"/><circle cx="434.14" cy="255.40" r="1.45" fill="#231f20" stroke="none" stroke-width="0"/><circle cx="441.42" cy="255.40" r="1.45" fill="#231f20" stroke="none" stroke-width="0"/><circle cx="448.70" cy="255.40" r="1.45" fill="#231f20" stroke="none" stroke-width="0"/><circle cx="455.98" cy="255.40" r="1.45" fill="#231f20" stroke="none" stroke-width="0"/><circle cx="463.26" cy="255.40" r="1.45" fill="#231f20" stroke="none" stroke-width="0"/><circle cx="470.54" cy="255.40" r="1.45" fill="#231f20" stroke="none" stroke-width="0"/><circle cx="477.82" cy="255.40" r="1.45" fill="#231f20" stroke="none" stroke-width="0"/><circle cx="415.94" cy="259.00" r="1.45" fill="#231f20" stroke="none" stroke-width="0"/><circle cx="423.22" cy="259.00" r="1.45" fill="#231f20" stroke="none" stroke-width="0"/><circle cx="430.50" cy="259.00" r="1.45" fill="#231f20" stroke="none" stroke-width="0"/><circle cx="437.78" cy="259.00" r="1.45" fill="#231f20" stroke="none" stroke-width="0"/><circle cx="445.06" cy="259.00" r="1.45" fill="#231f20" stroke="none" stroke-width="0"/><circle cx="452.34" cy="259.00" r="1.45" fill="#231f20" stroke="none" stroke-width="0"/><circle cx="459.62" cy="259.00" r="1.45" fill="#231f20" stroke="none" stroke-width="0"/><circle cx="466.90" cy="259.00" r="1.45" fill="#231f20" stroke="none" stroke-width="0"/><circle cx="474.18" cy="259.00" r="1.45" fill="#231f20" stroke="none" stroke-width="0"/><circle cx="412.30" cy="262.60" r="1.45" fill="#231f20" stroke="none" stroke-width="0"/><circle cx="419.58" cy="262.60" r="1.45" fill="#231f20" stroke="none" stroke-width="0"/><circle cx="426.86" cy="262.60" r="1.45" fill="#231f20" stroke="none" stroke-width="0"/><circle cx="434.14" cy="262.60" r="1.45" fill="#231f20" stroke="none" stroke-width="0"/><circle cx="441.42" cy="262.60" r="1.45" fill="#231f20" stroke="none" stroke-width="0"/><circle cx="448.70" cy="262.60" r="1.45" fill="#231f20" stroke="none" stroke-width="0"/><circle cx="455.98" cy="262.60" r="1.45" fill="#231f20" stroke="none" stroke-width="0"/><circle cx="463.26" cy="262.60" r="1.45" fill="#231f20" stroke="none" stroke-width="0"/><circle cx="470.54" cy="262.60" r="1.45" fill="#231f20" stroke="none" stroke-width="0"/><circle cx="477.82" cy="262.60" r="1.45" fill="#231f20" stroke="none" stroke-width="0"/><circle cx="415.94" cy="266.20" r="1.45" fill="#231f20" stroke="none" stroke-width="0"/><circle cx="423.22" cy="266.20" r="1.45" fill="#231f20" stroke="none" stroke-width="0"/><circle cx="430.50" cy="266.20" r="1.45" fill="#231f20" stroke="none" stroke-width="0"/><circle cx="437.78" cy="266.20" r="1.45" fill="#231f20" stroke="none" stroke-width="0"/><circle cx="445.06" cy="266.20" r="1.45" fill="#231f20" stroke="none" stroke-width="0"/><circle cx="452.34" cy="266.20" r="1.45" fill="#231f20" stroke="none" stroke-width="0"/><circle cx="459.62" cy="266.20" r="1.45" fill="#231f20" stroke="none" stroke-width="0"/><circle cx="466.90" cy="266.20" r="1.45" fill="#231f20" stroke="none" stroke-width="0"/><circle cx="474.18" cy="266.20" r="1.45" fill="#231f20" stroke="none" stroke-width="0"/><circle cx="412.30" cy="269.80" r="1.45" fill="#231f20" stroke="none" stroke-width="0"/><circle cx="419.58" cy="269.80" r="1.45" fill="#231f20" stroke="none" stroke-width="0"/><circle cx="426.86" cy="269.80" r="1.45" fill="#231f20" stroke="none" stroke-width="0"/><circle cx="434.14" cy="269.80" r="1.45" fill="#231f20" stroke="none" stroke-width="0"/><circle cx="441.42" cy="269.80" r="1.45" fill="#231f20" stroke="none" stroke-width="0"/><circle cx="448.70" cy="269.80" r="1.45" fill="#231f20" stroke="none" stroke-width="0"/><circle cx="455.98" cy="269.80" r="1.45" fill="#231f20" stroke="none" stroke-width="0"/><circle cx="463.26" cy="269.80" r="1.45" fill="#231f20" stroke="none" stroke-width="0"/><circle cx="470.54" cy="269.80" r="1.45" fill="#231f20" stroke="none" stroke-width="0"/><circle cx="477.82" cy="269.80" r="1.45" fill="#231f20" stroke="none" stroke-width="0"/><circle cx="415.94" cy="273.40" r="1.45" fill="#231f20" stroke="none" stroke-width="0"/><circle cx="423.22" cy="273.40" r="1.45" fill="#231f20" stroke="none" stroke-width="0"/><circle cx="430.50" cy="273.40" r="1.45" fill="#231f20" stroke="none" stroke-width="0"/><circle cx="437.78" cy="273.40" r="1.45" fill="#231f20" stroke="none" stroke-width="0"/><circle cx="445.06" cy="273.40" r="1.45" fill="#231f20" stroke="none" stroke-width="0"/><circle cx="452.34" cy="273.40" r="1.45" fill="#231f20" stroke="none" stroke-width="0"/><circle cx="459.62" cy="273.40" r="1.45" fill="#231f20" stroke="none" stroke-width="0"/><circle cx="466.90" cy="273.40" r="1.45" fill="#231f20" stroke="none" stroke-width="0"/><circle cx="474.18" cy="273.40" r="1.45" fill="#231f20" stroke="none" stroke-width="0"/><circle cx="412.30" cy="277.00" r="1.45" fill="#231f20" stroke="none" stroke-width="0"/><circle cx="419.58" cy="277.00" r="1.45" fill="#231f20" stroke="none" stroke-width="0"/><circle cx="426.86" cy="277.00" r="1.45" fill="#231f20" stroke="none" stroke-width="0"/><circle cx="434.14" cy="277.00" r="1.45" fill="#231f20" stroke="none" stroke-width="0"/><circle cx="441.42" cy="277.00" r="1.45" fill="#231f20" stroke="none" stroke-width="0"/><circle cx="448.70" cy="277.00" r="1.45" fill="#231f20" stroke="none" stroke-width="0"/><circle cx="455.98" cy="277.00" r="1.45" fill="#231f20" stroke="none" stroke-width="0"/><circle cx="463.26" cy="277.00" r="1.45" fill="#231f20" stroke="none" stroke-width="0"/><circle cx="470.54" cy="277.00" r="1.45" fill="#231f20" stroke="none" stroke-width="0"/><circle cx="477.82" cy="277.00" r="1.45" fill="#231f20" stroke="none" stroke-width="0"/><circle cx="415.94" cy="280.60" r="1.45" fill="#231f20" stroke="none" stroke-width="0"/><circle cx="423.22" cy="280.60" r="1.45" fill="#231f20" stroke="none" stroke-width="0"/><circle cx="430.50" cy="280.60" r="1.45" fill="#231f20" stroke="none" stroke-width="0"/><circle cx="437.78" cy="280.60" r="1.45" fill="#231f20" stroke="none" stroke-width="0"/><circle cx="445.06" cy="280.60" r="1.45" fill="#231f20" stroke="none" stroke-width="0"/><circle cx="452.34" cy="280.60" r="1.45" fill="#231f20" stroke="none" stroke-width="0"/><circle cx="459.62" cy="280.60" r="1.45" fill="#231f20" stroke="none" stroke-width="0"/><circle cx="466.90" cy="280.60" r="1.45" fill="#231f20" stroke="none" stroke-width="0"/><circle cx="474.18" cy="280.60" r="1.45" fill="#231f20" stroke="none" stroke-width="0"/><circle cx="412.30" cy="284.20" r="1.45" fill="#231f20" stroke="none" stroke-width="0"/><circle cx="419.58" cy="284.20" r="1.45" fill="#231f20" stroke="none" stroke-width="0"/><circle cx="426.86" cy="284.20" r="1.45" fill="#231f20" stroke="none" stroke-width="0"/><circle cx="434.14" cy="284.20" r="1.45" fill="#231f20" stroke="none" stroke-width="0"/><circle cx="441.42" cy="284.20" r="1.45" fill="#231f20" stroke="none" stroke-width="0"/><circle cx="448.70" cy="284.20" r="1.45" fill="#231f20" stroke="none" stroke-width="0"/><circle cx="455.98" cy="284.20" r="1.45" fill="#231f20" stroke="none" stroke-width="0"/><circle cx="463.26" cy="284.20" r="1.45" fill="#231f20" stroke="none" stroke-width="0"/><circle cx="470.54" cy="284.20" r="1.45" fill="#231f20" stroke="none" stroke-width="0"/><circle cx="477.82" cy="284.20" r="1.45" fill="#231f20" stroke="none" stroke-width="0"/><path d="M337.2,313.3 V276.4 Q337.2,272 341.6,272 H383.9 Q388.3,272 388.3,276.4 V313.3" fill="#fff" stroke="#231f20" stroke-width="1.1" /><rect x="342.00" y="278.10" width="41.00" height="29.40" rx="3" fill="#fff" stroke="#231f20" stroke-width="1.1" /><path d="M349.4,280.9 H375.5 L380.5,285.9 V301.7 Q380.5,304.7 377.5,304.7 H347.4 Q344.4,304.7 344.4,301.7 V285.9 Z" fill="none" stroke="#231f20" stroke-width="1.1" /><rect x="360.50" y="286.20" width="3.40" height="6.00" rx="0" fill="#222" stroke="none" stroke-width="0" /><line x1="360.50" y1="288.60" x2="363.90" y2="288.60" stroke="#888" stroke-width="0.4" stroke-linecap="butt"/><line x1="360.50" y1="290.20" x2="363.90" y2="290.20" stroke="#888" stroke-width="0.4" stroke-linecap="butt"/><rect x="350.30" y="292.30" width="3.40" height="6.00" rx="0" fill="#222" stroke="none" stroke-width="0" /><line x1="350.30" y1="294.70" x2="353.70" y2="294.70" stroke="#888" stroke-width="0.4" stroke-linecap="butt"/><line x1="350.30" y1="296.30" x2="353.70" y2="296.30" stroke="#888" stroke-width="0.4" stroke-linecap="butt"/><rect x="370.50" y="292.30" width="3.40" height="6.00" rx="0" fill="#222" stroke="none" stroke-width="0" /><line x1="370.50" y1="294.70" x2="373.90" y2="294.70" stroke="#888" stroke-width="0.4" stroke-linecap="butt"/><line x1="370.50" y1="296.30" x2="373.90" y2="296.30" stroke="#888" stroke-width="0.4" stroke-linecap="butt"/><path d="M358.8,275.9 Q360.5,273.6 362.2,275.3 Q363.9,277 365.6,274.7" fill="none" stroke="#444" stroke-width="0.7" /><path d="M167.2,259.2 H317.6 L373.4,211.8 L336.4,262 V287.2 H167.2 Z" fill="#e2e2e4" stroke="#231f20" stroke-width="1.1" /><path d="M214.6,348.5 H279.2 L338.5,300.3 L299.8,349.4 V376.9 H214.6 Z" fill="#e2e2e4" stroke="#231f20" stroke-width="1.1" /><text transform="translate(173.0,282.8) scale(0.86,1)" x="0" y="0" font-family="Liberation Sans" font-size="25.6" letter-spacing="0" fill="#1e1e1e" stroke="#1e1e1e" stroke-width="0.6">COMPUTER IN</text><text transform="translate(228.8,371.8) scale(0.93,1)" x="0" y="0" font-family="Liberation Sans" font-size="24.2" fill="#1e1e1e" stroke="#1e1e1e" stroke-width="0.6">AC IN</text><path d="M659.7,180.6 H920.2 Q931.5,181.5 936.3,185.8 V212.5 L927,222.2 H652.8 L644.4,211.3 V185 Q649.5,181.5 659.7,180.6 Z" fill="#fff" stroke="#231f20" stroke-width="1.3" /><rect x="644.90" y="194.90" width="290.90" height="2.10" rx="0" fill="#6e6e6e" stroke="none" stroke-width="0" /><rect x="644.90" y="197.00" width="290.90" height="0.70" rx="0" fill="#c8c8c8" stroke="none" stroke-width="0" /><line x1="644.60" y1="198.20" x2="936.00" y2="198.20" stroke="#4a4a4a" stroke-width="1.0" stroke-linecap="butt"/><path d="M673.6,180.6 V193.6 H714.4 V180.6 M715.9,180.6 V195.6" fill="none" stroke="#231f20" stroke-width="1.1" /><path d="M863.8,180.6 V194.2 H905.4 V180.6 M905.4,180.6 V195.6" fill="none" stroke="#231f20" stroke-width="1.1" /><line x1="682.10" y1="198.20" x2="682.10" y2="222.20" stroke="#231f20" stroke-width="1.1" stroke-linecap="butt"/><line x1="883.30" y1="198.20" x2="883.30" y2="221.80" stroke="#231f20" stroke-width="1.1" stroke-linecap="butt"/><line x1="682.10" y1="219.40" x2="883.30" y2="219.40" stroke="#231f20" stroke-width="1.0" stroke-linecap="butt"/><rect x="689.6999999999999" y="204.3" width="41.300000000000026" height="9.2" rx="4.6" fill="#fff" stroke="#231f20" stroke-width="1.2"/><circle cx="694.30" cy="208.90" r="4.40" fill="#2b2b2b" stroke="none" stroke-width="0"/><circle cx="694.30" cy="208.90" r="1.00" fill="#ddd" stroke="none" stroke-width="0"/><circle cx="726.40" cy="208.90" r="4.40" fill="#2b2b2b" stroke="none" stroke-width="0"/><circle cx="726.40" cy="208.90" r="1.00" fill="#ddd" stroke="none" stroke-width="0"/><path d="M699.8,203.2 H720.8 Q722.8,203.2 722.4,205.2 L720.0,213.6 Q719.5,215.2 717.8,215.2 H702.8 Q701.0999999999999,215.2 700.5999999999999,213.6 L698.1999999999999,205.2 Q697.8,203.2 699.8,203.2 Z" fill="#fff" stroke="#231f20" stroke-width="1.7"/><circle cx="703.30" cy="207.70" r="0.70" fill="#222" stroke="none" stroke-width="0"/><circle cx="706.70" cy="207.70" r="0.70" fill="#222" stroke="none" stroke-width="0"/><circle cx="710.10" cy="207.70" r="0.70" fill="#222" stroke="none" stroke-width="0"/><circle cx="713.50" cy="207.70" r="0.70" fill="#222" stroke="none" stroke-width="0"/><circle cx="716.90" cy="207.70" r="0.70" fill="#222" stroke="none" stroke-width="0"/><circle cx="705.00" cy="210.90" r="0.70" fill="#222" stroke="none" stroke-width="0"/><circle cx="708.40" cy="210.90" r="0.70" fill="#222" stroke="none" stroke-width="0"/><circle cx="711.80" cy="210.90" r="0.70" fill="#222" stroke="none" stroke-width="0"/><circle cx="715.20" cy="210.90" r="0.70" fill="#222" stroke="none" stroke-width="0"/><rect x="771.1" y="204.70000000000002" width="41.99999999999996" height="9.2" rx="4.6" fill="#fff" stroke="#231f20" stroke-width="1.2"/><circle cx="775.70" cy="209.30" r="4.40" fill="#2b2b2b" stroke="none" stroke-width="0"/><circle cx="775.70" cy="209.30" r="1.00" fill="#ddd" stroke="none" stroke-width="0"/><circle cx="808.50" cy="209.30" r="4.40" fill="#2b2b2b" stroke="none" stroke-width="0"/><circle cx="808.50" cy="209.30" r="1.00" fill="#ddd" stroke="none" stroke-width="0"/><path d="M782.2,203.3 H802.0 Q804.0,203.3 803.6,205.3 L801.2,213.70000000000002 Q800.7,215.3 799.0,215.3 H785.2 Q783.5,215.3 783.0,213.70000000000002 L780.6,205.3 Q780.2,203.3 782.2,203.3 Z" fill="#2f72b8" stroke="#231f20" stroke-width="1.7"/><circle cx="785.50" cy="206.90" r="0.70" fill="#163a66" stroke="none" stroke-width="0"/><circle cx="788.20" cy="206.90" r="0.70" fill="#163a66" stroke="none" stroke-width="0"/><circle cx="790.90" cy="206.90" r="0.70" fill="#163a66" stroke="none" stroke-width="0"/><circle cx="793.60" cy="206.90" r="0.70" fill="#163a66" stroke="none" stroke-width="0"/><circle cx="796.30" cy="206.90" r="0.70" fill="#163a66" stroke="none" stroke-width="0"/><circle cx="785.50" cy="209.30" r="0.70" fill="#163a66" stroke="none" stroke-width="0"/><circle cx="788.20" cy="209.30" r="0.70" fill="#163a66" stroke="none" stroke-width="0"/><circle cx="790.90" cy="209.30" r="0.70" fill="#163a66" stroke="none" stroke-width="0"/><circle cx="793.60" cy="209.30" r="0.70" fill="#163a66" stroke="none" stroke-width="0"/><circle cx="796.30" cy="209.30" r="0.70" fill="#163a66" stroke="none" stroke-width="0"/><circle cx="785.50" cy="211.70" r="0.70" fill="#163a66" stroke="none" stroke-width="0"/><circle cx="788.20" cy="211.70" r="0.70" fill="#163a66" stroke="none" stroke-width="0"/><circle cx="790.90" cy="211.70" r="0.70" fill="#163a66" stroke="none" stroke-width="0"/><circle cx="793.60" cy="211.70" r="0.70" fill="#163a66" stroke="none" stroke-width="0"/><circle cx="796.30" cy="211.70" r="0.70" fill="#163a66" stroke="none" stroke-width="0"/><rect x="816.4" y="204.70000000000002" width="61.7" height="9.2" rx="4.6" fill="#fff" stroke="#231f20" stroke-width="1.2"/><circle cx="821.00" cy="209.30" r="4.40" fill="#2b2b2b" stroke="none" stroke-width="0"/><circle cx="821.00" cy="209.30" r="1.00" fill="#ddd" stroke="none" stroke-width="0"/><circle cx="873.50" cy="209.30" r="4.40" fill="#2b2b2b" stroke="none" stroke-width="0"/><circle cx="873.50" cy="209.30" r="1.00" fill="#ddd" stroke="none" stroke-width="0"/><path d="M827.6,203.3 H867.0 Q869.0,203.3 868.6,205.3 L866.2,213.70000000000002 Q865.7,215.3 864.0,215.3 H830.6 Q828.9,215.3 828.4,213.70000000000002 L826.0,205.3 Q825.6,203.3 827.6,203.3 Z" fill="#fff" stroke="#231f20" stroke-width="1.7"/><circle cx="830.00" cy="207.50" r="0.70" fill="#222" stroke="none" stroke-width="0"/><circle cx="832.87" cy="207.50" r="0.70" fill="#222" stroke="none" stroke-width="0"/><circle cx="835.74" cy="207.50" r="0.70" fill="#222" stroke="none" stroke-width="0"/><circle cx="838.61" cy="207.50" r="0.70" fill="#222" stroke="none" stroke-width="0"/><circle cx="841.48" cy="207.50" r="0.70" fill="#222" stroke="none" stroke-width="0"/><circle cx="844.35" cy="207.50" r="0.70" fill="#222" stroke="none" stroke-width="0"/><circle cx="847.22" cy="207.50" r="0.70" fill="#222" stroke="none" stroke-width="0"/><circle cx="850.09" cy="207.50" r="0.70" fill="#222" stroke="none" stroke-width="0"/><circle cx="852.96" cy="207.50" r="0.70" fill="#222" stroke="none" stroke-width="0"/><circle cx="855.83" cy="207.50" r="0.70" fill="#222" stroke="none" stroke-width="0"/><circle cx="858.70" cy="207.50" r="0.70" fill="#222" stroke="none" stroke-width="0"/><circle cx="861.57" cy="207.50" r="0.70" fill="#222" stroke="none" stroke-width="0"/><circle cx="864.44" cy="207.50" r="0.70" fill="#222" stroke="none" stroke-width="0"/><circle cx="831.40" cy="211.10" r="0.70" fill="#222" stroke="none" stroke-width="0"/><circle cx="834.27" cy="211.10" r="0.70" fill="#222" stroke="none" stroke-width="0"/><circle cx="837.14" cy="211.10" r="0.70" fill="#222" stroke="none" stroke-width="0"/><circle cx="840.01" cy="211.10" r="0.70" fill="#222" stroke="none" stroke-width="0"/><circle cx="842.88" cy="211.10" r="0.70" fill="#222" stroke="none" stroke-width="0"/><circle cx="845.75" cy="211.10" r="0.70" fill="#222" stroke="none" stroke-width="0"/><circle cx="848.62" cy="211.10" r="0.70" fill="#222" stroke="none" stroke-width="0"/><circle cx="851.49" cy="211.10" r="0.70" fill="#222" stroke="none" stroke-width="0"/><circle cx="854.36" cy="211.10" r="0.70" fill="#222" stroke="none" stroke-width="0"/><circle cx="857.23" cy="211.10" r="0.70" fill="#222" stroke="none" stroke-width="0"/><circle cx="860.10" cy="211.10" r="0.70" fill="#222" stroke="none" stroke-width="0"/><circle cx="862.97" cy="211.10" r="0.70" fill="#222" stroke="none" stroke-width="0"/><rect x="734.90" y="201.00" width="29.80" height="16.80" rx="0" fill="#fff" stroke="#231f20" stroke-width="1.3" /><path d="M736.3,215.6 V206.6 H738.5 V203.6 H740.1999999999999 V202.5 H745.0 V203.6 H746.6999999999999 V206.6 H748.9 V215.6 Z" fill="none" stroke="#231f20" stroke-width="1.1" /><path d="M750.9,215.6 V206.6 H753.1 V203.6 H754.8 V202.5 H759.6 V203.6 H761.3 V206.6 H763.5 V215.6 Z" fill="none" stroke="#231f20" stroke-width="1.1" /><line x1="735.60" y1="216.30" x2="764.00" y2="216.30" stroke="#231f20" stroke-width="0.8" stroke-linecap="butt"/><rect x="887.50" y="200.40" width="17.80" height="7.80" rx="0" fill="#fff" stroke="#231f20" stroke-width="1.2" /><rect x="889.90" y="203.00" width="13.00" height="2.60" rx="1" fill="#fff" stroke="#231f20" stroke-width="1.0" /><rect x="887.50" y="210.20" width="17.80" height="7.80" rx="0" fill="#fff" stroke="#231f20" stroke-width="1.2" /><rect x="889.90" y="212.80" width="13.00" height="2.60" rx="1" fill="#fff" stroke="#231f20" stroke-width="1.0" /><circle cx="917.00" cy="209.60" r="4.60" fill="#fff" stroke="#231f20" stroke-width="1.2"/><circle cx="917.00" cy="209.60" r="1.80" fill="#fff" stroke="#231f20" stroke-width="1.0"/><path d="M363,451 V477.1 A9,9 0 0 0 372,486.1 H705.2" fill="none" stroke="#231f20" stroke-width="5.4" stroke-linecap="round"/><path d="M363,452 V470" fill="none" stroke="#231f20" stroke-width="5.2" /><path d="M341.5,353.8 H386 V401 Q386,403.5 383.5,403.5 H344 Q341.5,403.5 341.5,401 Z" fill="#fff" stroke="#231f20" stroke-width="1.2" /><rect x="341.50" y="353.80" width="7.50" height="30.80" rx="0" fill="#fff" stroke="#231f20" stroke-width="1.1" /><rect x="378.50" y="353.80" width="7.50" height="30.80" rx="0" fill="#fff" stroke="#231f20" stroke-width="1.1" /><line x1="341.50" y1="385.60" x2="386.00" y2="385.60" stroke="#231f20" stroke-width="1.0" stroke-linecap="butt"/><rect x="351.40" y="387.40" width="23.90" height="14.60" rx="0" fill="#fff" stroke="#231f20" stroke-width="1.1" /><line x1="351.80" y1="389.20" x2="374.90" y2="389.20" stroke="#444" stroke-width="1.3" stroke-linecap="butt"/><line x1="351.80" y1="391.50" x2="374.90" y2="391.50" stroke="#444" stroke-width="1.3" stroke-linecap="butt"/><line x1="351.80" y1="393.80" x2="374.90" y2="393.80" stroke="#444" stroke-width="1.3" stroke-linecap="butt"/><line x1="351.80" y1="396.10" x2="374.90" y2="396.10" stroke="#444" stroke-width="1.3" stroke-linecap="butt"/><line x1="351.80" y1="398.40" x2="374.90" y2="398.40" stroke="#444" stroke-width="1.3" stroke-linecap="butt"/><line x1="351.80" y1="400.70" x2="374.90" y2="400.70" stroke="#444" stroke-width="1.3" stroke-linecap="butt"/><path d="M346,403.5 L348.3,422.9 H378.9 L380.9,403.5" fill="#fff" stroke="#231f20" stroke-width="1.1" /><path d="M352.1,423.6 L354,451.3 H372.1 L373.6,423.6 Z" fill="#fff" stroke="#231f20" stroke-width="1.1" /><path d="M373.4,427.9 H364 A1.1,1.1 0 0 0 364,430.1 H373" fill="none" stroke="#231f20" stroke-width="0.9" /><path d="M373.4,438.09999999999997 H364 A1.1,1.1 0 0 0 364,440.3 H373" fill="none" stroke="#231f20" stroke-width="0.9" /><path d="M352.8,433.2 H363 A1.1,1.1 0 0 1 363,435.40000000000003 H353.4" fill="none" stroke="#231f20" stroke-width="0.9" /><path d="M352.8,443.2 H363 A1.1,1.1 0 0 1 363,445.40000000000003 H353.4" fill="none" stroke="#231f20" stroke-width="0.9" /><g stroke="#fff" stroke-width="6.5" fill="none" stroke-linecap="round" stroke-linejoin="miter"><path d="M360.8,178.3 L389.1,206.8 L417.4,178.3"/><path d="M389.1,160.2 V203.8"/></g><g stroke="#1262ad" stroke-width="4.1" fill="none" stroke-linecap="round" stroke-linejoin="miter"><path d="M360.8,178.3 L389.1,206.8 L417.4,178.3"/><path d="M389.1,160.2 V203.8"/></g><g stroke="#fff" stroke-width="6.5" fill="none" stroke-linecap="round" stroke-linejoin="miter"><path d="M767,177.3 L792.2,203.5 L817.3,177.3"/><path d="M792.2,160.5 V200.5"/></g><g stroke="#1262ad" stroke-width="4.1" fill="none" stroke-linecap="round" stroke-linejoin="miter"><path d="M767,177.3 L792.2,203.5 L817.3,177.3"/><path d="M792.2,160.5 V200.5"/></g><g stroke="#fff" stroke-width="6.5" fill="none" stroke-linecap="round" stroke-linejoin="miter"><path d="M337,330 L363.9,301.8 L390.9,330"/><path d="M363.9,346.6 V304.5"/></g><g stroke="#1262ad" stroke-width="4.1" fill="none" stroke-linecap="round" stroke-linejoin="miter"><path d="M337,330 L363.9,301.8 L390.9,330"/><path d="M363.9,346.6 V304.5"/></g><g stroke="#1262ad" stroke-width="4.1" fill="none" stroke-linecap="round" stroke-linejoin="miter"><path d="M755.8,461.2 L782.6,488.4 L755.8,515.4"/><path d="M737.8,488.4 H780"/></g><g font-family="Liberation Sans" font-style="italic"><text x="437.5" y="47.8" font-size="22.3" fill="#262424" text-anchor="start" >Câble d’ordinateur fourni (VGA)</text><text x="418.5" y="468.7" font-size="22.3" fill="#262424" text-anchor="start" >Câble d’alimentation (fourni)</text><text x="806.8" y="490.8" font-size="22.3" fill="#262424" text-anchor="start" >Vers la prise murale</text></g>
</svg></body></html>
